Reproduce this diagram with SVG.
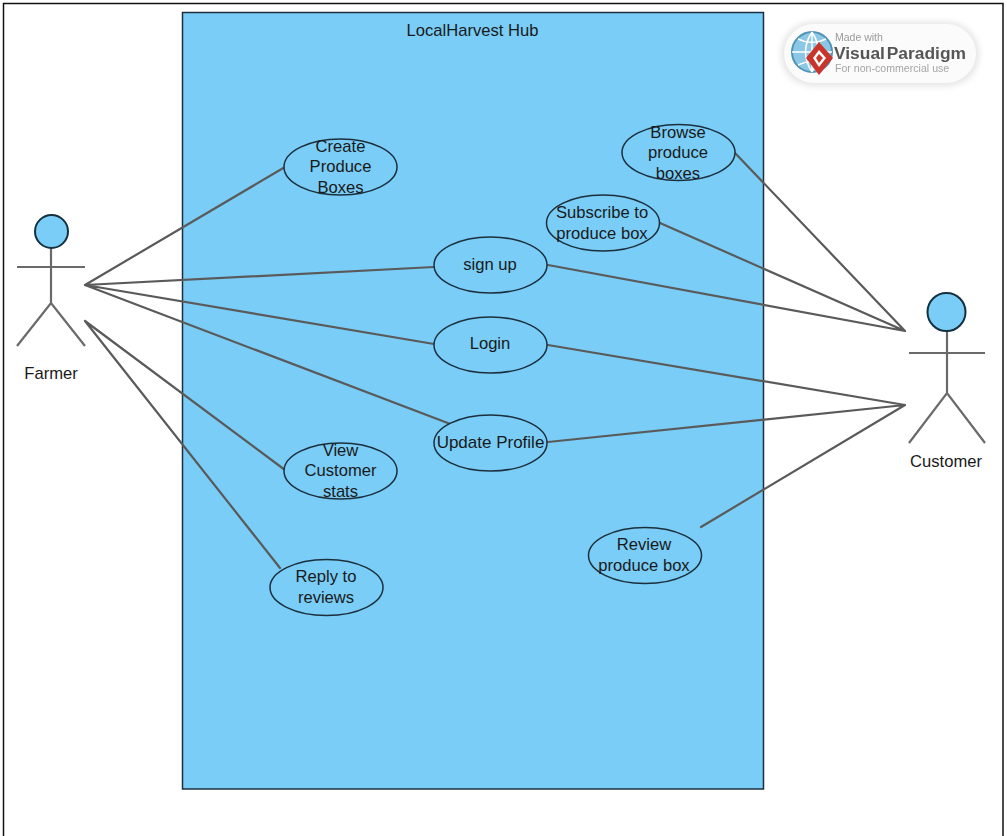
<svg xmlns="http://www.w3.org/2000/svg" width="1007" height="836" viewBox="0 0 1007 836">
<defs>
<filter id="soft" x="-10%" y="-20%" width="120%" height="140%"><feGaussianBlur stdDeviation="3"/></filter>
<filter id="blur" x="-5%" y="-5%" width="110%" height="110%"><feGaussianBlur stdDeviation="0.5"/></filter>
</defs>
<style>
text{font-family:"Liberation Sans",Arial,sans-serif;fill:#1a1a1a;font-size:16.600px;text-anchor:middle}
.uc{fill:#79cdf7;stroke:#1c2f3d;stroke-width:1.500}
.conn{fill:none;stroke:#5a5a5a;stroke-width:2.200;stroke-linecap:round}
.actor{fill:none;stroke:#6a6a6a;stroke-width:2.200}
.head{fill:#79cdf7;stroke:#15303f;stroke-width:2}
</style>
<rect width="1007" height="836" fill="#fff"/>
<path d="M3.500 836V3.500H1003V836" fill="none" stroke="#111" stroke-width="1.500"/>
<g id="system">
<rect x="182.500" y="12.500" width="581" height="776.500" fill="#79cdf7" stroke="#1c2f3d" stroke-width="1.500"/>
<text x="472.500" y="36">LocalHarvest Hub</text>
</g>
<g id="connectors">
<path class="conn" d="M85 285L285 167M85 285L434 267M85 285L434 344M85 285L453 425M85 321L285 470M85 321L280 568M735 153L905 331M660 223L905 331M548 265L905 331M548 345L905 405M548 442L905 405M701 527L905 405"/>
</g>
<g id="uc-create"><ellipse class="uc" cx="340.500" cy="167" rx="56.500" ry="28"/><text x="340.500" y="152">Create</text><text x="340.500" y="172">Produce</text><text x="340.500" y="193">Boxes</text></g>
<g id="uc-browse"><ellipse class="uc" cx="678.500" cy="152.500" rx="56.500" ry="28"/><text x="678" y="138">Browse</text><text x="678" y="158">produce</text><text x="678" y="179">boxes</text></g>
<g id="uc-subscribe"><ellipse class="uc" cx="603" cy="223" rx="56.500" ry="28"/><text x="602" y="218">Subscribe to</text><text x="602" y="239">produce box</text></g>
<g id="uc-signup"><ellipse class="uc" cx="490.500" cy="265" rx="56.500" ry="28"/><text x="490" y="270">sign up</text></g>
<g id="uc-login"><ellipse class="uc" cx="490.500" cy="345" rx="56.500" ry="28"/><text x="490" y="349">Login</text></g>
<g id="uc-update"><ellipse class="uc" cx="490.500" cy="443" rx="56.500" ry="28"/><text x="490.500" y="448" style="font-size:17px">Update Profile</text></g>
<g id="uc-stats"><ellipse class="uc" cx="340.500" cy="471" rx="56.500" ry="28"/><text x="340.500" y="456">View</text><text x="340.500" y="476">Customer</text><text x="340.500" y="497">stats</text></g>
<g id="uc-review"><ellipse class="uc" cx="645" cy="555.500" rx="56.500" ry="28"/><text x="644" y="550">Review</text><text x="644" y="571">produce box</text></g>
<g id="uc-reply"><ellipse class="uc" cx="326.500" cy="587.500" rx="56.500" ry="28"/><text x="326" y="582">Reply to</text><text x="326" y="603">reviews</text></g>
<g id="actor-farmer">
<path class="actor" d="M51 248V303M17 267H85M17 346L51 303L85 346"/>
<circle class="head" cx="51.500" cy="231.500" r="16.500"/>
<text x="51" y="379">Farmer</text>
</g>
<g id="actor-customer">
<path class="actor" d="M947 331V393M909 353H985M909 443L947 393L985 443"/>
<circle class="head" cx="946.500" cy="312" r="19"/>
<text x="946" y="467">Customer</text>
</g>
<g id="logo">
<rect x="781" y="22" width="198" height="64" rx="32" fill="#e4e4e4" filter="url(#soft)"/>
<rect x="784" y="24" width="192" height="59" rx="29.500" fill="#fbfbfb"/>
<g filter="url(#blur)">
<circle cx="812" cy="52" r="20" fill="#8cc8e6" stroke="#4f93b5" stroke-width="2"/>
<path d="M792 52H832M812 32V72M798 39Q812 46 826 39M798 65Q812 58 826 65M812 32Q799 52 812 72M812 32Q825 52 812 72" fill="none" stroke="#fff" stroke-width="1.500"/>
<path d="M819 42L833 58L819 75L806 58Z" fill="#c9352c"/>
<path d="M819 50L826 58L819 67L813 58Z" fill="#fff"/>
<path d="M819 54L823 58L819 63L816 58Z" fill="#c9352c"/>
<text x="835" y="41" style="font-size:10.500px;text-anchor:start;fill:#9a9a9a">Made with</text>
<text x="834" y="59" style="font-size:17.400px;font-weight:bold;text-anchor:start;fill:#555;word-spacing:-3px">Visual Paradigm</text>
<text x="835" y="72" style="font-size:10.600px;text-anchor:start;fill:#a5a5a5">For non-commercial use</text>
</g>
</g>
</svg>
